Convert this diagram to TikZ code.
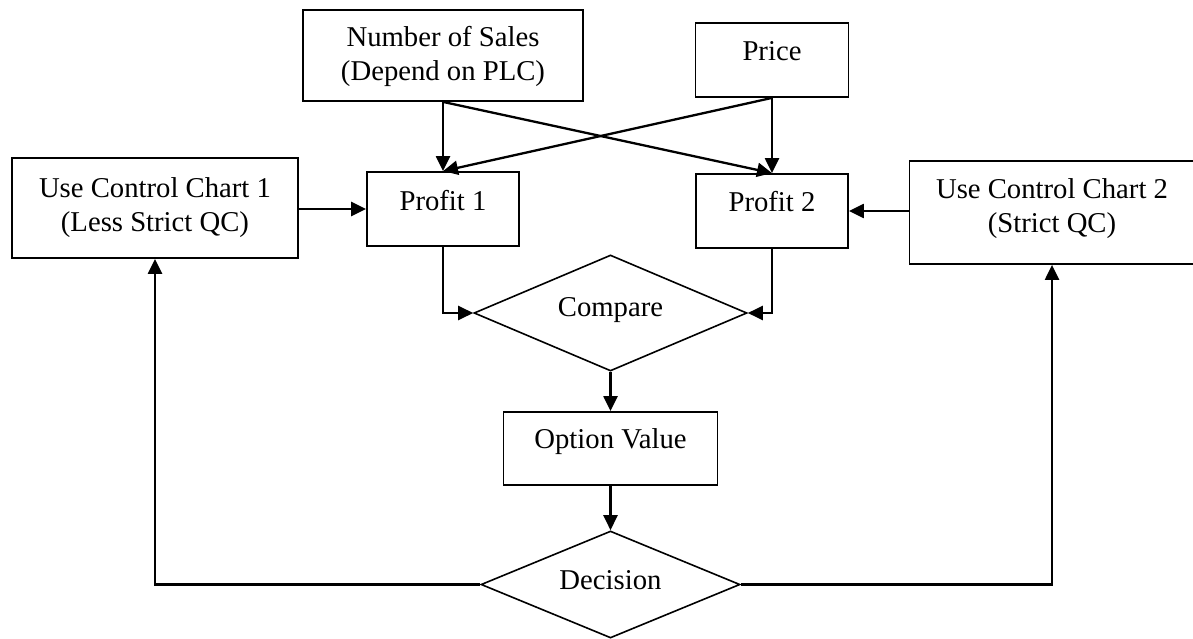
\documentclass[tikz,border=0pt]{standalone}
\usepackage{fontspec}
\setmainfont{Liberation Serif}
\usetikzlibrary{shapes.geometric,arrows.meta}
\newcommand{\boxtxt}[2]{\raisebox{#1}[0pt][0pt]{\begin{tabular}[t]{@{}c@{}}#2\end{tabular}}}
\begin{document}
\begin{tikzpicture}[x=1pt,y=-1pt,
  every node/.style={font=\fontsize{28.7}{34}\selectfont, inner sep=0pt},
  box/.style={draw, line width=1.8pt, rectangle},
  dia/.style={draw, line width=1.6pt, diamond},
  conn/.style={line width=2.3pt, -{Triangle[length=15pt,width=14pt]}}]
\useasboundingbox (0,0) rectangle (1193,639);
\node[box, minimum width=280pt, minimum height=91pt] (nos) at (443,55.5) {\boxtxt{8.5pt}{Number of Sales\\(Depend on PLC)}};
\node[box, minimum width=153pt, minimum height=74pt] (price) at (772,60) {\boxtxt{-1pt}{Price}};
\node[box, minimum width=286pt, minimum height=100pt] (ucc1) at (155,208) {\boxtxt{11pt}{Use Control Chart 1\\(Less Strict QC)}};
\node[box, minimum width=152pt, minimum height=74pt] (p1) at (443,209) {\boxtxt{-1pt}{Profit 1}};
\node[box, minimum width=152pt, minimum height=74pt] (p2) at (772,211) {\boxtxt{-1pt}{Profit 2}};
\node[box, minimum width=285pt, minimum height=103pt] (ucc2) at (1052,212.5) {\boxtxt{14pt}{Use Control Chart 2\\(Strict QC)}};
\node[dia, minimum width=273pt, minimum height=116pt] (cmp) at (610.5,313) {\boxtxt{-3pt}{Compare}};
\node[box, minimum width=214pt, minimum height=73pt] (opt) at (610.5,448.5) {\boxtxt{0pt}{Option Value}};
\node[dia, minimum width=259pt, minimum height=107pt] (dec) at (610.5,584.5) {\boxtxt{-4.5pt}{Decision}};
\draw[conn] (nos.south) -- (p1.north);
\draw[conn] (nos.south) -- (p2.north);
\draw[conn] (price.south) -- (p2.north);
\draw[conn] (price.south) -- (p1.north);
\draw[conn] (ucc1.east |- p1.west) -- (p1.west);
\draw[conn] (ucc2.west |- p2.east) -- (p2.east);
\draw[conn] (p1.south) |- (cmp.west);
\draw[conn] (p2.south) |- (cmp.east);
\draw[conn] (cmp.south) -- (opt.north);
\draw[conn] (opt.south) -- (dec.north);
\draw[conn] (dec.west) -| (ucc1.south);
\draw[conn] (dec.east) -| (ucc2.south);
\end{tikzpicture}
\end{document}
